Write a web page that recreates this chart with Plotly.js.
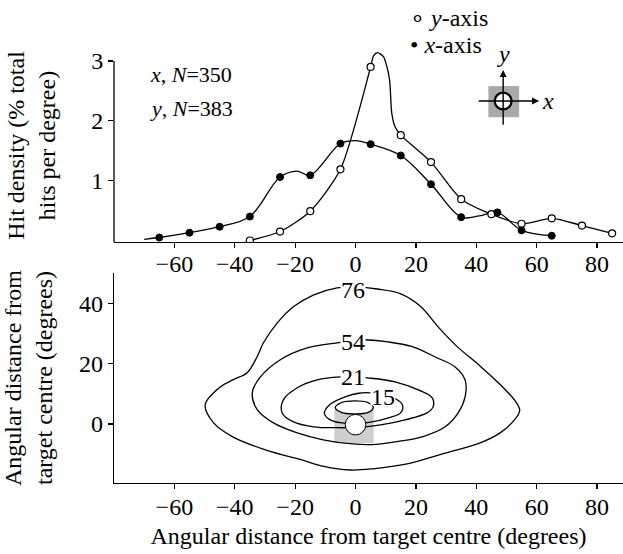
<!DOCTYPE html>
<html><head><meta charset="utf-8">
<script src="https://cdn.plot.ly/plotly-3.0.1.min.js"></script>
<style>html,body{margin:0;padding:0;background:#fff}</style>
</head><body><div id="chart" style="width:623px;height:554px"></div>
<script>
// ---- Top panel: hit density (% total hits per degree) ----
var xAxisDeg = [-65, -55, -45, -35, -25, -15, -5, 5, 15, 25, 35, 47, 55, 65];
var xAxisDensity = [0.05, 0.13, 0.23, 0.40, 1.06, 1.09, 1.62, 1.61, 1.42, 0.94, 0.39, 0.47, 0.17, 0.08];
var yAxisDeg = [-35, -25, -15, -5, 5, 15, 25, 35, 45, 55, 65, 75, 85];
var yAxisDensity = [0.00, 0.15, 0.49, 1.19, 2.90, 1.76, 1.31, 0.69, 0.44, 0.28, 0.37, 0.25, 0.12];

// fitted curves as drawn in the figure (vertices)
var xAxisCurveDeg = [-70, -65, -55, -45, -35, -25, -19.5, -15, -5, 0, 5, 15, 25, 35, 41, 47, 55, 65];
var xAxisCurveDensity = [0.02, 0.05, 0.13, 0.23, 0.40, 1.06, 1.16, 1.09, 1.62, 1.67, 1.61, 1.42, 0.94, 0.39, 0.41, 0.47, 0.17, 0.08];
var yAxisCurveDeg = [-35, -25, -15, -5, 5, 6, 7.3, 9.3, 10.4, 11.3, 12.0, 13.1, 15, 25, 35, 45, 55, 65, 75, 85];
var yAxisCurveDensity = [0.00, 0.15, 0.49, 1.19, 2.90, 3.09, 3.14, 3.07, 2.90, 2.68, 2.13, 1.90, 1.76, 1.31, 0.69, 0.44, 0.28, 0.37, 0.25, 0.12];

// ---- Bottom panel: contour lines (degrees) ----
var contourLevels = ['76', '54', '21', '15'];
var c76X = [0, 7.2, 14.8, 21.5, 27.5, 33.5, 41.5, 48.5, 53, 54.4, 52.5, 47.9, 41.3, 29, 17.1, 5.8, -1.8, -10.5, -18.3, -29.3, -40.5, -47, -49.8, -44.8, -40.5, -35.9, -32.6, -30.5, -25.9, -20.6, -14, -6.1, 0];
var c76Y = [45.3, 44.7, 43.2, 39, 32, 25.8, 19, 12.5, 7.5, 4.5, 1.2, -2.9, -6.2, -9.8, -13.2, -14.8, -15.2, -14, -11.7, -8.7, -4.3, 0.4, 6.4, 12.3, 14.7, 17.0, 22.3, 26.9, 33.5, 38.8, 42.7, 45.1, 45.3];
var c54X = [0, 3.2, 10.8, 18.8, 26.4, 33.0, 36.3, 36.3, 34.0, 29.7, 22.1, 13.1, 5.5, -1.8, -10.7, -19.3, -27.2, -32.5, -34.2, -31.5, -24.9, -16.0, -6.1, 0];
var c54Y = [27.8, 27.9, 27.2, 25.6, 22.2, 18.9, 14.6, 9.0, 3.7, -0.9, -4.2, -5.9, -6.8, -6.5, -5.2, -2.9, 0.4, 4.7, 10.4, 15.6, 21.3, 25.2, 26.9, 27.8];
var c21X = [0, 3.9, 13.1, 20.8, 25.4, 25.7, 23.7, 16.4, 8.8, 3.2, -2.7, -6.1, -14.0, -20.7, -24.3, -23.9, -19.3, -12.7, -5.1, 0];
var c21Y = [15.6, 15.3, 14.0, 11.3, 8.7, 5.7, 3.7, 1.4, -0.2, -0.9, -1.2, -1.2, -0.9, 0.8, 3.7, 8.0, 12.0, 14.6, 15.6, 15.6];
var c15X = [4.9, 9.2, 13.5, 15.6, 15.0, 11.5, 4.0, -2.7, -8.0, -10.3, -8.5, -3, 1, 4.9];
var c15Y = [10.3, 9.2, 8.2, 6.2, 3.8, 2.2, 0.5, 0.2, 1.2, 3.5, 6.5, 9.2, 10.2, 10.3];
var cInnerX = [-6.7, -4.5, -0.4, 4, 5.9, 4, -0.4, -4.5, -6.7];
var cInnerY = [5.5, 7.2, 7.7, 7.2, 5.5, 3.8, 3.4, 3.8, 5.5];
var labelX = [-1, -0.8, -0.8, 9.2];
var labelY = [44.4, 27.2, 15.6, 9.2];

var xTicks = [-60, -40, -20, 0, 20, 40, 60, 80];
var densityTicks = [1, 2, 3];
var angleTicks = [0, 20, 40];
var legendNames = ['\u2218 <i>y</i>-axis', '\u2022 <i>x</i>-axis'];

var FONT = "'Liberation Serif', 'Times New Roman', Times, serif";
var lineStyle = {color: '#000', width: 1.3, shape: 'spline', smoothing: 1};

var traces = [
  {x: yAxisCurveDeg, y: yAxisCurveDensity, mode: 'lines', line: {color: '#000', width: 1.3, shape: 'spline', smoothing: 0.7}, xaxis: 'x', yaxis: 'y', showlegend: false, hoverinfo: 'skip'},
  {x: xAxisCurveDeg, y: xAxisCurveDensity, mode: 'lines', line: lineStyle, xaxis: 'x', yaxis: 'y', showlegend: false, hoverinfo: 'skip'},
  {x: yAxisDeg, y: yAxisDensity, mode: 'markers', name: 'y-axis', xaxis: 'x', yaxis: 'y', showlegend: false,
   marker: {symbol: 'circle', size: 7, color: '#fff', line: {color: '#000', width: 1.2}}},
  {x: xAxisDeg, y: xAxisDensity, mode: 'markers', name: 'x-axis', xaxis: 'x', yaxis: 'y', showlegend: false,
   marker: {symbol: 'circle', size: 7, color: '#000', line: {color: '#000', width: 1}}}
];
[[c76X, c76Y], [c54X, c54Y], [c21X, c21Y], [c15X, c15Y]].forEach(function (c) {
  traces.push({x: c[0], y: c[1], mode: 'lines', line: lineStyle, xaxis: 'x2', yaxis: 'y2', showlegend: false, hoverinfo: 'skip'});
});
traces.push({x: cInnerX, y: cInnerY, mode: 'lines', line: lineStyle, fill: 'toself', fillcolor: '#fff',
  xaxis: 'x2', yaxis: 'y2', showlegend: false, hoverinfo: 'skip'});

var annotations = [
  // key (legend) for the two series
  {xref: 'paper', yref: 'paper', x: 0.5776, y: 1.0714, xanchor: 'left', yanchor: 'middle', text: legendNames[0], showarrow: false, font: {size: 24}},
  {xref: 'paper', yref: 'paper', x: 0.5776, y: 1.0092, xanchor: 'left', yanchor: 'middle', text: legendNames[1], showarrow: false, font: {size: 24}},
  {xref: 'x', yref: 'y', x: -68.6, y: 2.77, xanchor: 'left', text: '<i>x</i>, <i>N</i>=350', showarrow: false, font: {size: 22}},
  {xref: 'x', yref: 'y', x: -68.6, y: 2.21, xanchor: 'left', text: '<i>y</i>, <i>N</i>=383', showarrow: false, font: {size: 22}},
  {xref: 'x', yref: 'y', x: 60.8, y: 2.33, ax: 40.3, ay: 2.33, axref: 'x', ayref: 'y', text: '', showarrow: true, arrowhead: 2, arrowsize: 1, arrowwidth: 1.4, arrowcolor: '#000'},
  {xref: 'x', yref: 'y', x: 48.9, y: 2.85, ax: 48.9, ay: 1.91, axref: 'x', ayref: 'y', text: '', showarrow: true, arrowhead: 2, arrowsize: 1, arrowwidth: 1.4, arrowcolor: '#000'},
  {xref: 'x', yref: 'y', x: 48.9, y: 3.12, text: '<i>y</i>', showarrow: false},
  {xref: 'x', yref: 'y', x: 63.8, y: 2.33, text: '<i>x</i>', showarrow: false}
];
contourLevels.forEach(function (lv, i) {
  annotations.push({xref: 'x2', yref: 'y2', x: labelX[i], y: labelY[i], text: lv, showarrow: false,
    bgcolor: '#fff', borderpad: 0, height: 17});
});

var axisCommon = {linecolor: '#000', linewidth: 1.3, ticks: 'outside', ticklen: 5, tickwidth: 1.2,
  tickcolor: '#000', showgrid: false, zeroline: false, tickfont: {family: FONT, size: 24, color: '#000'}};

var layout = {
  width: 623, height: 554,
  margin: {l: 114, r: 0, t: 49, b: 71, pad: 0},
  paper_bgcolor: '#fff', plot_bgcolor: '#fff',
  font: {family: FONT, size: 24, color: '#000'},
  showlegend: false,
  xaxis: Object.assign({}, axisCommon, {showline: true, domain: [0, 1], range: [-80, 88.6], anchor: 'y', tickvals: xTicks, ticklabelstandoff: -5}),
  yaxis: Object.assign({}, axisCommon, {showline: false, domain: [0.5553, 1], range: [-0.025, 3.2], anchor: 'x', tickvals: densityTicks,
    title: {text: 'Hit density (% total<br>hits per degree)', font: {family: FONT, size: 24}, standoff: 28}}),
  xaxis2: Object.assign({}, axisCommon, {showline: true, domain: [0, 1], range: [-80, 88.6], anchor: 'y2', tickvals: xTicks, ticklabelstandoff: -3,
    title: {text: 'Angular distance from target centre (degrees)', font: {family: FONT, size: 24}, standoff: 8}}),
  yaxis2: Object.assign({}, axisCommon, {showline: true, domain: [0, 0.4839], range: [-19.5, 50], anchor: 'x2', tickvals: angleTicks,
    title: {text: 'Angular distance from<br>target centre (degrees)', font: {family: FONT, size: 24}, standoff: 28}}),
  shapes: [
    // top panel vertical axis line, ending at 3
    {type: 'line', xref: 'x domain', yref: 'y', x0: 0, x1: 0, y0: -0.025, y1: 3, line: {color: '#000', width: 1.3}},
    {type: 'rect', xref: 'x', yref: 'y', x0: 44, x1: 54.2, y0: 2.06, y1: 2.58, fillcolor: '#a9a9a9', line: {width: 0}, layer: 'above'},
    {type: 'circle', xref: 'x', yref: 'y', x0: 46.1, x1: 51.7, y0: 2.19, y1: 2.47, fillcolor: '#fff', line: {color: '#000', width: 2.2}, layer: 'above'},
    {type: 'rect', xref: 'x2', yref: 'y2', x0: -7, x1: 6, y0: -6.3, y1: 5, fillcolor: '#cfcfcf', line: {width: 0}, layer: 'below'},
    {type: 'circle', xref: 'x2', yref: 'y2', x0: -3.4, x1: 3.4, y0: -3.6, y1: 3.2, fillcolor: '#fff', line: {color: '#000', width: 1}, layer: 'above'}
  ],
  annotations: annotations
};

Plotly.newPlot('chart', traces, layout, {displayModeBar: false, staticPlot: true});
</script></body></html>
